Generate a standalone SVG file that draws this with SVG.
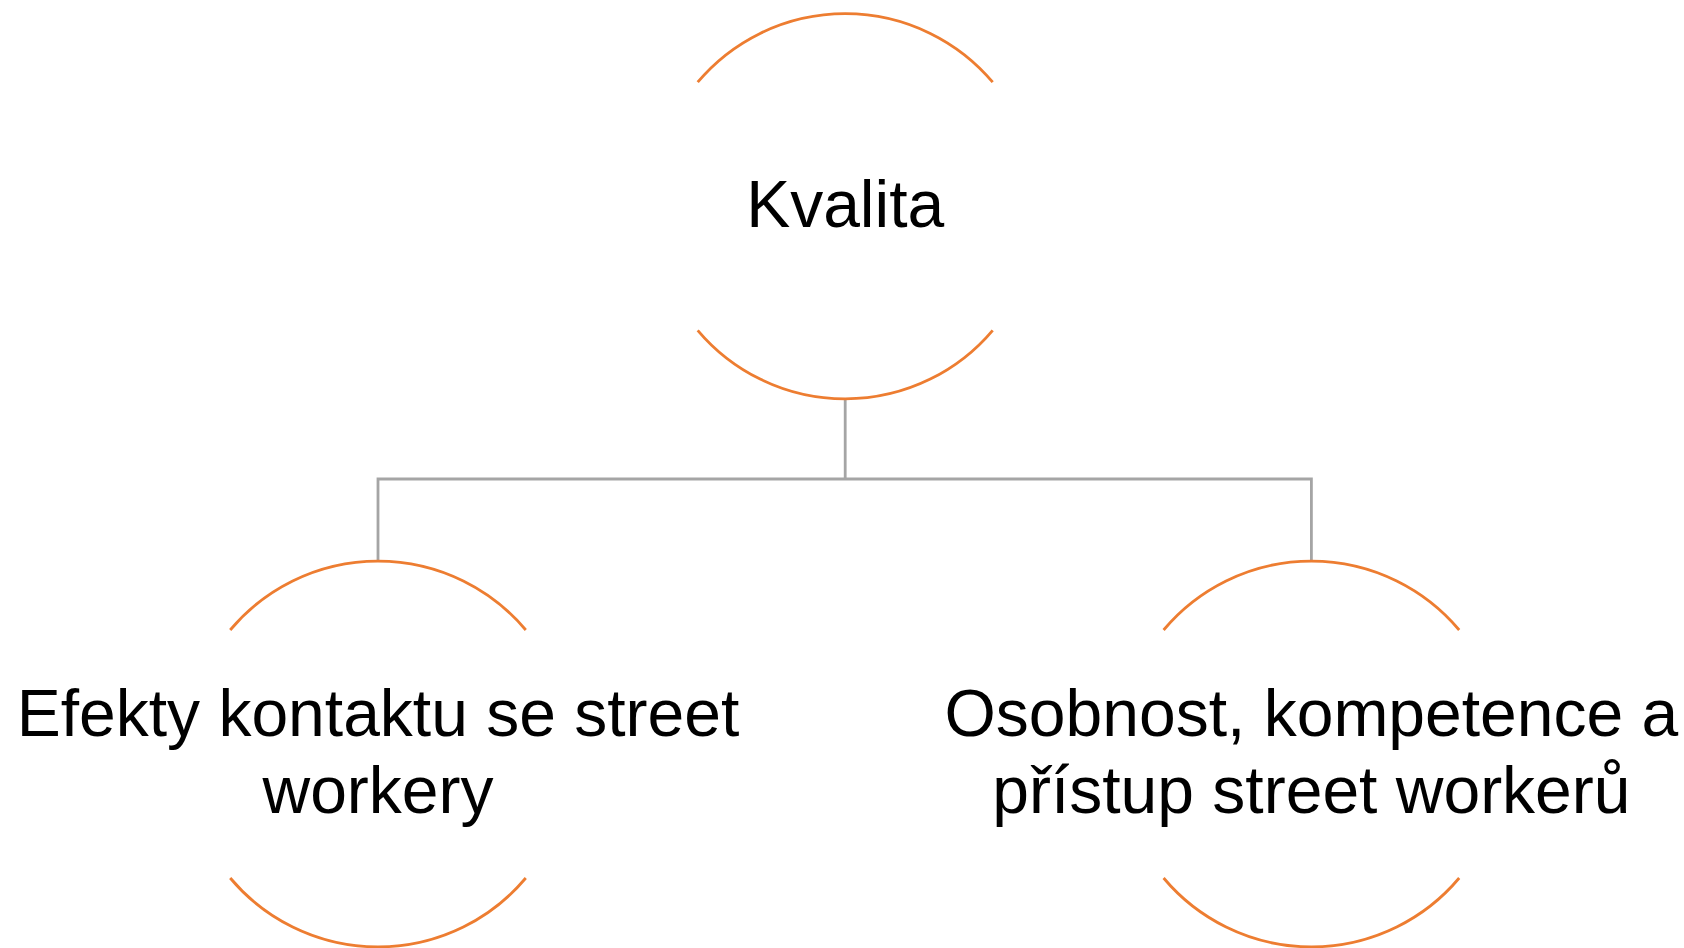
<svg xmlns="http://www.w3.org/2000/svg" width="1684" height="948" viewBox="0 0 1684 948">
  <style>
    .arc { fill: none; stroke: #ED7D31; stroke-width: 2.8; }
    .conn { fill: none; stroke: #A5A5A5; stroke-width: 2.8; }
    .lbl { font-family: "Liberation Sans", Arial, sans-serif; font-size: 66px; fill: #000000; text-anchor: middle; }
  </style>
  <rect width="1684" height="948" fill="#FFFFFF"/>
  <g id="connectors">
    <path class="conn" d="M 845.2 399.7 V 479 M 378 561 V 479 H 1311.4 V 561"/>
  </g>
  <g id="node-kvalita">
    <path class="arc" d="M 697.7 82.2 A 193 193 0 0 1 992.7 82.2"/>
    <path class="arc" d="M 697.7 330.3 A 193 193 0 0 0 992.7 330.3"/>
    <text class="lbl" x="845.2" y="227">Kvalita</text>
  </g>
  <g id="node-efekty">
    <path class="arc" d="M 230.2 630 A 193 193 0 0 1 525.8 630"/>
    <path class="arc" d="M 230.2 878 A 193 193 0 0 0 525.8 878"/>
    <text class="lbl" x="378" y="736">Efekty kontaktu se street</text>
    <text class="lbl" x="378" y="813">workery</text>
  </g>
  <g id="node-osobnost">
    <path class="arc" d="M 1163.6 630 A 193 193 0 0 1 1459.2 630"/>
    <path class="arc" d="M 1163.6 878 A 193 193 0 0 0 1459.2 878"/>
    <text class="lbl" x="1311.4" y="736">Osobnost, kompetence a</text>
    <text class="lbl" x="1311.4" y="813">přístup street workerů</text>
  </g>
</svg>
